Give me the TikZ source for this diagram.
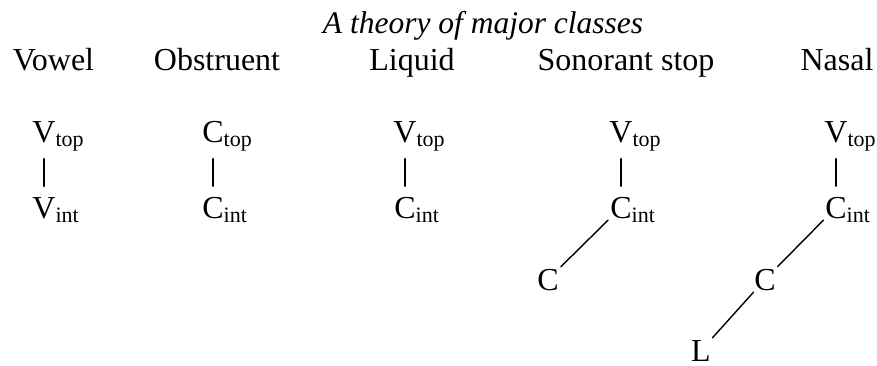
\documentclass[tikz,border=0pt]{standalone}
\usepackage{fontspec}
\setmainfont{Liberation Serif}
\usepackage{tikz}
\newcommand{\segm}[2]{#1\rlap{\raisebox{-2.2pt}{\fontsize{11}{12}\selectfont #2}}}

\begin{document}
\begin{tikzpicture}[x=0.5pt,y=-0.5pt, font=\fontsize{16}{19}\selectfont, line join=round, line cap=round, line width=0.7pt]
	\tikzset{seg/.style={inner sep=0pt, anchor=base, text depth=0pt},
		head/.style={anchor=base}}
	\useasboundingbox (0,0) rectangle (877,365);
	\def\ytop{142} \def\yint{218} \def\ylow{290} \def\yl{361}
	% title and headings
	\node[head, font=\fontsize{15.75}{19}\selectfont\itshape] (title) at (483,33) {A theory of major classes};
	\node[head] (vowel) at (53.5,70) {Vowel};
	\node[head] (obstr) at (217,70) {Obstruent};
	\node[head] (liquid) at (412,70) {Liquid};
	\node[head] (sonstop) at (626,70) {Sonorant stop};
	\node[head] (nasal) at (837,70) {Nasal};
	% vowel
	\node[seg] (vtopA) at (44,\ytop) {\segm{V}{top}};
	\node[seg] (vintA) at (44,\yint) {\segm{V}{int}};
	% obstruent
	\node[seg] (ctopB) at (213,\ytop) {\segm{C}{top}};
	\node[seg] (cintB) at (213,\yint) {\segm{C}{int}};
	% liquid
	\node[seg] (vtopC) at (405,\ytop) {\segm{V}{top}};
	\node[seg] (cintC) at (405,\yint) {\segm{C}{int}};
	% sonorant stop
	\node[seg] (vtopD) at (621,\ytop) {\segm{V}{top}};
	\node[seg] (cintD) at (621,\yint) {\segm{C}{int}};
	\node[seg] (cD) at (548,\ylow) {C};
	% nasal
	\node[seg] (vtopE) at (836,\ytop) {\segm{V}{top}};
	\node[seg] (cintE) at (836,\yint) {\segm{C}{int}};
	\node[seg] (cE) at (765,\ylow) {C};
	\node[seg] (lE) at (701,\yl) {L};
	\foreach \a/\b in {vtopA/vintA,ctopB/cintB,vtopC/cintC,vtopD/cintD,vtopE/cintE}
	{\draw[shorten <=8pt, shorten >=5pt] (\a.south) -- (\b.north);}
	\draw[shorten <=1pt, shorten >=1pt] (cD) -- (cintD);
	\draw[shorten <=1pt, shorten >=1pt] (cE) -- (cintE);
	\draw[shorten <=1pt, shorten >=1pt] (lE) -- (cE);
\end{tikzpicture}
\end{document}
